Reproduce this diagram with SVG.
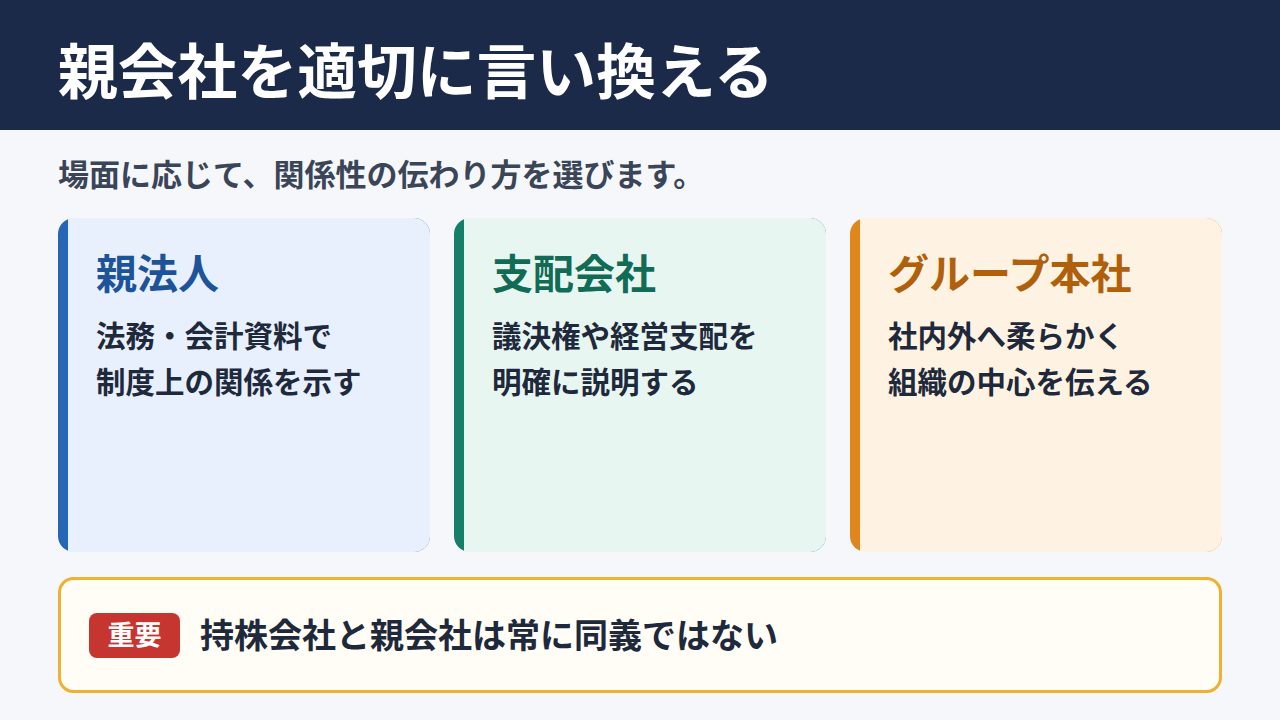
<svg xmlns="http://www.w3.org/2000/svg" width="1280" height="720" viewBox="0 0 1280 720">
<style>
text{font-family:"Noto Sans CJK JP","Noto Sans",sans-serif;font-weight:700}
.ct{font-size:41px}
.cb{font-size:29.5px;fill:#1e293b}
</style>
<rect width="1280" height="720" fill="#f5f7fb"/>
<g id="header">
<rect width="1280" height="130" fill="#1c2a4a"/>
<text x="58" y="94" font-size="59.8" fill="#ffffff">親会社を適切に言い換える</text>
</g>
<text id="subtitle" x="58" y="186" font-size="31" fill="#3a4557">場面に応じて、関係性の伝わり方を選びます。</text>
<g id="card1">
<rect x="58" y="218" width="372" height="334" rx="16" fill="#2566b5"/>
<path d="M68 218H414A16 16 0 0 1 430 234V536A16 16 0 0 1 414 552H68Z" fill="#e8f0fd"/>
<text x="96" y="289" class="ct" fill="#1d5398">親法人</text>
<text x="96" y="347" class="cb">法務・会計資料で</text>
<text x="96" y="393" class="cb">制度上の関係を示す</text>
</g>
<g id="card2">
<rect x="454" y="218" width="372" height="334" rx="16" fill="#15806a"/>
<path d="M464 218H810A16 16 0 0 1 826 234V536A16 16 0 0 1 810 552H464Z" fill="#e7f6f1"/>
<text x="492" y="289" class="ct" fill="#126b55">支配会社</text>
<text x="492" y="347" class="cb">議決権や経営支配を</text>
<text x="492" y="393" class="cb">明確に説明する</text>
</g>
<g id="card3">
<rect x="850" y="218" width="372" height="334" rx="16" fill="#e0861a"/>
<path d="M860 218H1206A16 16 0 0 1 1222 234V536A16 16 0 0 1 1206 552H860Z" fill="#fef2e2"/>
<text x="888" y="289" class="ct" fill="#b0600a">グループ本社</text>
<text x="888" y="347" class="cb">社内外へ柔らかく</text>
<text x="888" y="393" class="cb">組織の中心を伝える</text>
</g>
<g id="note">
<rect x="59.5" y="578.5" width="1161" height="113" rx="14" fill="#fffdf5" stroke="#f0b030" stroke-width="3"/>
<rect x="89" y="613" width="91" height="45" rx="8" fill="#c6352f"/>
<text x="134.5" y="645" font-size="27" fill="#ffffff" text-anchor="middle">重要</text>
<text x="200" y="648" font-size="34" fill="#1e293b">持株会社と親会社は常に同義ではない</text>
</g>
<g id="connectors"/>
</svg>
